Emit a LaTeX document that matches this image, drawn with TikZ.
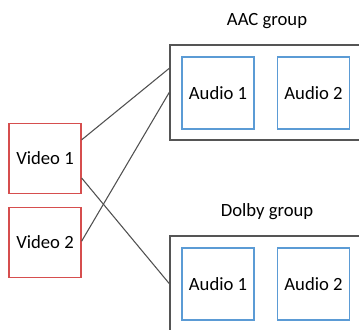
\documentclass[tikz,border=0pt]{standalone}
\usepackage{fontspec}
\setmainfont{Carlito}
\usetikzlibrary{positioning}

\definecolor{vidred}{RGB}{214,78,78}
\definecolor{audblue}{RGB}{91,155,213}
\definecolor{grpgray}{RGB}{85,85,85}
\definecolor{lnkgray}{RGB}{80,80,80}

\tikzset{
	vidbox/.style={draw=vidred, line width=0.9pt, minimum width=54pt, minimum height=53pt, font=\fontsize{14}{16}\selectfont},
	audbox/.style={draw=audblue, line width=0.9pt, minimum width=54pt, minimum height=54pt, font=\fontsize{14}{16}\selectfont},
	grpbox/.style={draw=grpgray, line width=1.2pt, minimum width=144pt, minimum height=71pt},
	grplabel/.style={font=\fontsize{14}{16}\selectfont},
	link/.style={draw=lnkgray, line width=0.8pt}
}

\begin{document}
\begin{tikzpicture}[x=0.75pt,y=-0.75pt]
\clip (0,0) rectangle (359,329);
\useasboundingbox (0,0) rectangle (359,329);

% groups
\node[grpbox] (aac) at (266,92.5) {};
\node[grpbox] (dolby) at (266,283.5) {};
\node[grplabel] (aaclbl) at (267,21) {AAC group};
\node[grplabel] (dolbylbl) at (267,212) {Dolby group};

% audio tracks
\node[audbox] (aac1) at (218,93) {Audio 1};
\node[audbox] (aac2) at (313.5,93) {Audio 2};
\node[audbox] (dolby1) at (218,284) {Audio 1};
\node[audbox] (dolby2) at (313.5,284) {Audio 2};

% video tracks
\node[vidbox] (v1) at (45,158.5) {Video 1};
\node[vidbox] (v2) at (45,242.5) {Video 2};

\draw[link] (v1.27) -- (aac.166);
\draw[link] (v2.2) -- (aac.west);
\draw[link] (v1.-28) -- (dolby.west);

\end{tikzpicture}
\end{document}
